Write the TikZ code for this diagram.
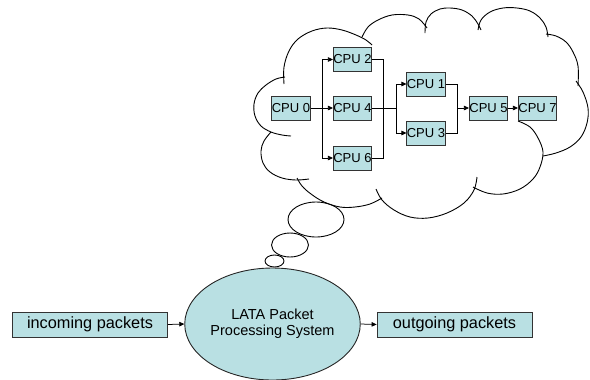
\documentclass[tikz,border=0pt]{standalone}
\usepackage{fontspec}
\setmainfont{Liberation Sans}
\usetikzlibrary{arrows.meta,shapes.geometric}
\definecolor{boxfill}{RGB}{185,224,227}
\tikzset{
  cpu/.style={draw=black!80, line width=0.8bp, fill=boxfill, minimum width=37bp,
    minimum height=24bp, inner sep=0pt, font=\fontsize{13bp}{15bp}\selectfont},
  packetbox/.style={draw=black!80, line width=0.8bp, fill=boxfill, minimum width=155bp,
    minimum height=25bp, inner sep=0pt, font=\fontsize{16.3bp}{18bp}\selectfont},
  system/.style={draw=black!85, line width=0.9bp, fill=boxfill, ellipse, minimum width=137bp,
    minimum height=112bp, inner sep=0pt, align=center, font=\fontsize{14.5bp}{16bp}\selectfont},
  link/.style={line width=0.75bp},
  flow/.style={link, -{Triangle[length=5bp,width=4.5bp]}},
  puff/.style={line width=0.9bp},
}
\begin{document}
\begin{tikzpicture}[x=1bp,y=-1bp]
\useasboundingbox (0,0) rectangle (590,379);

% thought cloud outline, one bump at a time
\draw[puff] plot[smooth,tension=0.6] coordinates {(285,77) (276,79) (266,85) (258,93) (254,104) (255,116) (261,126) (271,132) (282,135) (291,136)};
\draw[puff] plot[smooth,tension=0.6] coordinates {(284,84) (284,67) (289,51) (298,39) (312,31) (327,28) (342,30) (356,35) (366,40) (372,45)};
\draw[puff] plot[smooth,tension=0.6] coordinates {(362,37) (368,27) (378,20) (392,15) (408,15) (419,19) (427,28)};
\draw[puff] plot[smooth,tension=0.6] coordinates {(425,33) (426,22) (431,14) (440,9) (450,8) (462,10) (472,16) (478,24) (481,30)};
\draw[puff] plot[smooth,tension=0.6] coordinates {(478,30) (481,20) (490,12) (503,8) (517,8) (530,11) (540,18) (546,27) (548,37)};
\draw[puff] plot[smooth,tension=0.6] coordinates {(546,34) (556,36) (566,42) (573,52) (578,66) (578,86)};
\draw[puff] plot[smooth,tension=0.6] coordinates {(576,81) (583,92) (588,108) (587,123) (581,137) (570,147) (556,153) (543,156)};
\draw[puff] plot[smooth,tension=0.6] coordinates {(518,121) (530,127) (538,138) (543,152) (540,167) (533,179) (520,189) (503,194) (487,193) (473,187)};
\draw[puff] plot[smooth,tension=0.6] coordinates {(477,177) (474,190) (464,203) (447,213) (428,218) (410,217) (394,210) (382,200) (376,189)};
\draw[puff] plot[smooth,tension=0.6] coordinates {(382,198) (370,204) (355,207) (340,207) (324,202) (311,194) (302,186) (297,178)};
\draw[puff] plot[smooth,tension=0.6] coordinates {(309,179) (296,180) (282,178) (270,172) (263,163) (261,151) (264,141) (271,132)};

% trail of thought bubbles
\draw[puff] (316,219.5) ellipse [x radius=28, y radius=17.5];
\draw[puff] (290,245) ellipse [x radius=18.5, y radius=12];
\draw[puff] (274.5,261) ellipse [x radius=9.5, y radius=6];

% processors
\node[cpu] (c0) at (291,108) {CPU 0};
\node[cpu] (c2) at (352.5,59.5) {CPU 2};
\node[cpu] (c4) at (352.5,108) {CPU 4};
\node[cpu] (c6) at (352.5,158) {CPU 6};
\node[cpu] (c1) at (426,84) {CPU 1};
\node[cpu] (c3) at (426,133) {CPU 3};
\node[cpu] (c5) at (488.5,108) {CPU 5};
\node[cpu] (c7) at (537.5,108) {CPU 7};

\coordinate (s0) at (322,108);
\coordinate (j1) at (383,108);
\coordinate (j2) at (396,108);
\coordinate (j3) at (457,108);

\draw[link] (c0.east) -- (s0);
\draw[flow] (s0) |- (c2.west);
\draw[flow] (s0) -- (c4.west);
\draw[flow] (s0) |- (c6.west);
\draw[link] (c2.east) -- (c2.east -| j1) -- (c6.east -| j1) -- (c6.east);
\draw[link] (c4.east) -- (j2);
\draw[flow] (j2) |- (c1.west);
\draw[flow] (j2) |- (c3.west);
\draw[link] (c1.east) -| (j3);
\draw[link] (c3.east) -| (j3);
\draw[flow] (j3) -- (c5.west);
\draw[flow] (c5.east) -- (c7.west);

% packet path
\node[system] (sys) at (272.5,324) {LATA Packet\\Processing System};
\node[packetbox] (in) at (90,324.5) {incoming packets};
\node[packetbox] (out) at (454.5,324.5) {outgoing packets};
\draw[flow] (in.east) -- (sys.west);
\draw[flow] (sys.east) -- (out.west);
\end{tikzpicture}
\end{document}
